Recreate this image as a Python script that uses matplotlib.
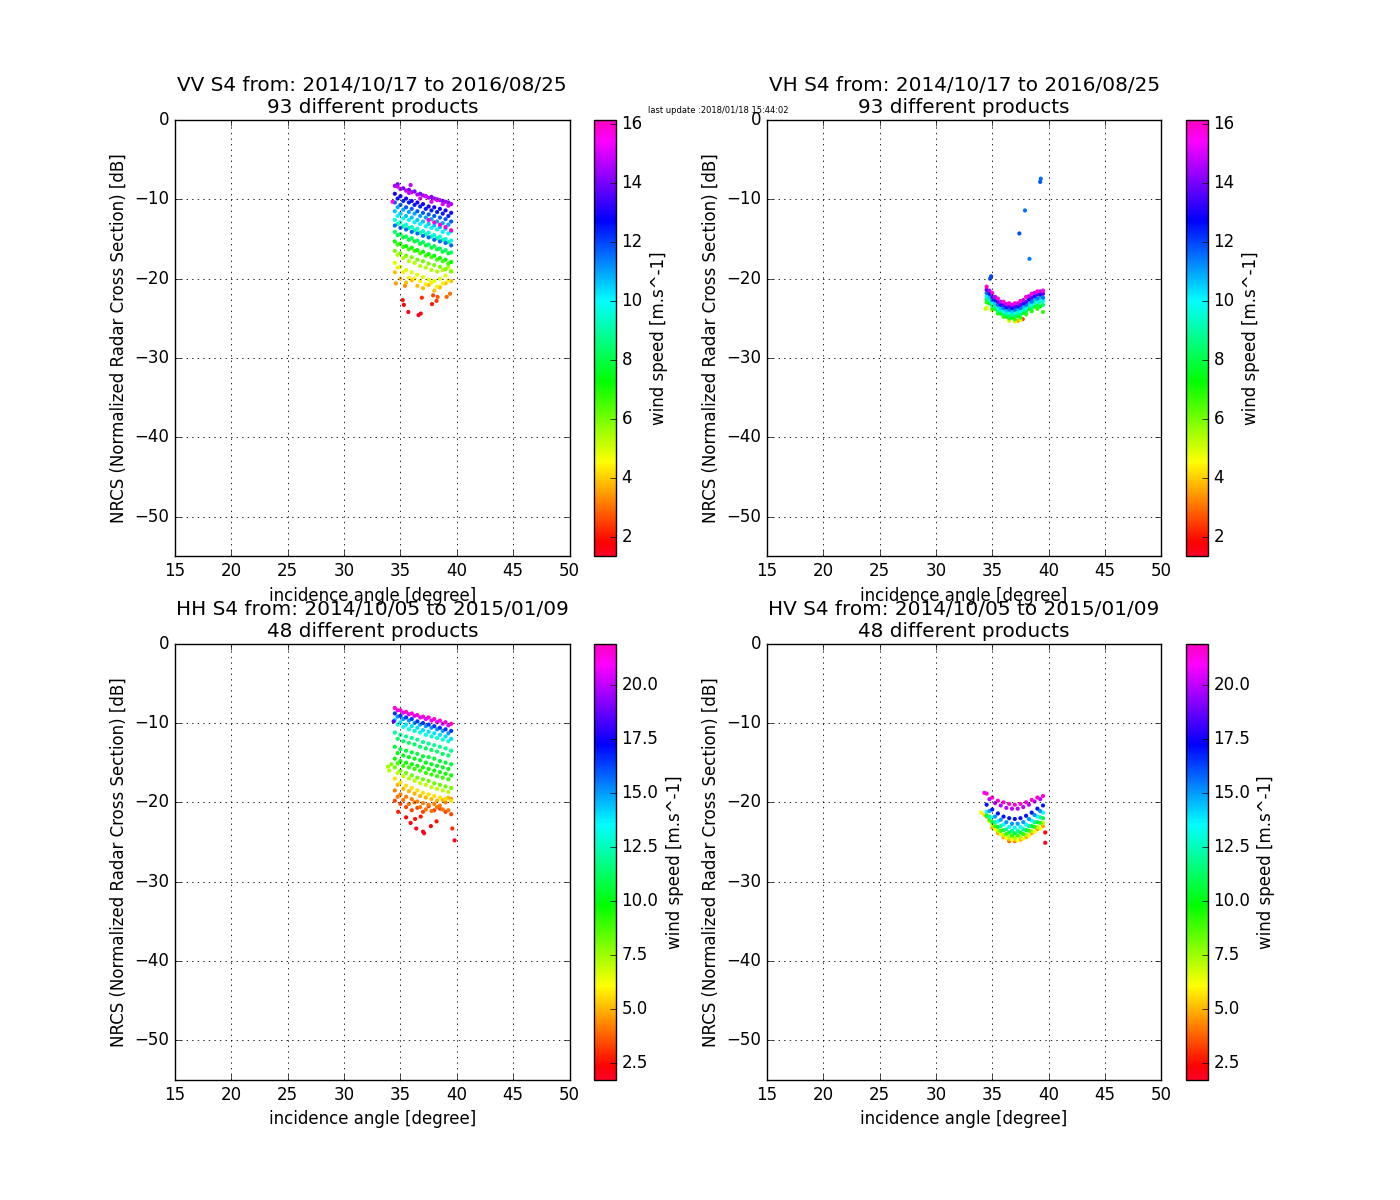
import numpy as np
import matplotlib
matplotlib.use("Agg")
import matplotlib.pyplot as plt
from matplotlib.ticker import MultipleLocator, FormatStrFormatter

# ---------------- data ----------------
ANGLES_A = [34.5, 35.0, 35.5, 36.0, 36.5, 37.0, 37.5, 38.0, 38.5, 39.0, 39.5]
ANGLES_B = [34.75, 35.25, 35.75, 36.25, 36.75, 37.25, 37.75, 38.25, 38.75, 39.25]
nan = float("nan")

# VV
VV_WIND_A = [14.6, 13.0, 11.8, 10.6, 15.9, 9.6, 11.6, 8.4, 7.2, 6.0, 4.9, 3.9]
VV_NRCS_A = [
    [-8.3, -8.7, -8.9, -9.1, -9.4, -9.5, -9.8, -9.9, -10.1, -10.3, -10.6],
    [-9.3, -9.6, -9.9, -10.2, -10.4, -10.6, -10.9, -11.0, -11.2, -11.4, -11.7],
    [-10.4, -10.7, -11.0, -11.2, -11.5, -11.7, -11.9, -12.1, -12.3, -12.5, -12.8],
    [-11.5, -11.8, -12.1, -12.3, -12.6, -12.8, -13.1, -13.3, -13.5, -13.7, -14.0],
    [nan, nan, nan, nan, nan, nan, -12.6, -12.9, -13.2, -13.5, -13.9],
    [-12.6, -12.9, -13.2, -13.5, -13.7, -14.0, -14.2, -14.5, -14.7, -15.0, -15.2],
    [-13.3, -13.6, -13.8, -14.1, -14.3, -14.6, -14.8, -15.1, -15.3, -15.5, -15.8],
    [-14.1, -14.4, -14.7, -14.9, -15.2, -15.4, -15.7, -15.9, -16.2, -16.4, -16.7],
    [-15.3, -15.6, -15.9, -16.1, -16.4, -16.6, -16.9, -17.1, -17.4, -17.6, -17.9],
    [-16.5, -16.8, -17.1, -17.3, -17.6, -17.8, -18.1, -18.3, -18.5, -18.8, -19.1],
    [-18.0, -18.5, -18.9, -19.2, -19.5, -19.8, -20.1, -20.3, -20.0, -19.6, -19.0],
    [-19.2, -20.0, -20.5, -20.2, -20.9, -21.2, -20.8, -21.5, -21.1, -20.6, -20.3],
]
VV_WIND_B = [14.0, 12.4, 11.0, 10.1, 9.0, 7.8, 6.6, 5.4, 4.4, 15.0]
VV_NRCS_B = [
    [-8.1, -8.6, -8.8, -9.0, -9.3, -9.6, -9.7, -10.0, -10.2, -10.4],
    [-9.9, -10.2, -10.4, -10.7, -10.9, -11.2, -11.4, -11.6, -11.8, -12.1],
    [-11.0, -11.3, -11.6, -11.8, -12.1, -12.3, -12.5, -12.8, -13.0, -13.2],
    [-12.1, -12.4, -12.6, -12.9, -13.1, -13.4, -13.6, -13.8, -14.1, -14.3],
    [-13.1, -13.4, -13.6, -13.9, -14.2, -14.4, -14.7, -14.9, -15.1, -15.4],
    [-14.5, -14.8, -15.1, -15.3, -15.6, -15.8, -16.1, -16.3, -16.6, -16.8],
    [-15.7, -16.0, -16.3, -16.5, -16.8, -17.1, -17.3, -17.6, -17.8, -18.1],
    [-17.0, -17.4, -17.8, -18.0, -18.4, -18.6, -18.9, -19.1, -18.9, -18.5],
    [-18.6, -19.2, -19.9, -20.0, -20.3, -20.7, -20.5, -21.0, -20.6, -20.2],
    [-8.4, nan, -9.2, nan, -9.9, -9.6, -10.3, -10.1, -10.6, -10.8],
]
VV_EXTRA_ANGLE = [35.2, 35.3, 35.7, 36.6, 36.8, 36.9, 37.8, 37.9, 38.2, 38.3, 39.1, 39.4, 34.6, 35.4, 34.3, 35.9]
VV_EXTRA_NRCS = [-22.7, -23.3, -24.2, -24.6, -24.4, -22.4, -23.2, -22.1, -22.8, -22.3, -22.3, -21.9, -20.6, -20.9, -10.3, -8.2]
VV_EXTRA_WIND = [2.0, 1.8, 1.5, 1.4, 1.6, 2.3, 2.1, 2.6, 2.4, 2.8, 2.9, 3.0, 3.5, 3.3, 15.5, 14.8]

# VH
VH_WIND_A = [15.9, 13.6, 11.5, 9.8, 8.3, 6.8, 5.0]
VH_NRCS_A = [
    [-21.0, -21.8, -22.5, -22.9, -23.1, -23.1, -22.8, -22.3, -21.9, -21.6, -21.5],
    [-21.4, -22.3, -22.9, -23.3, -23.5, -23.5, -23.3, -22.9, -22.4, -22.0, -21.9],
    [-21.8, -22.7, -23.3, -23.7, -23.9, -23.9, -23.7, -23.3, -22.9, -22.5, -22.4],
    [-22.2, -23.0, -23.7, -24.1, -24.3, -24.3, -24.1, -23.7, -23.3, -22.9, -22.8],
    [-22.6, -23.4, -24.1, -24.5, -24.7, -24.7, -24.5, -24.1, -23.7, -23.3, -23.3],
    [-23.0, -23.8, -24.4, -24.8, -25.0, -25.1, -24.9, -24.5, -24.1, -23.8, -24.2],
    [-23.7, -24.0, nan, nan, -25.3, -25.4, -25.2, nan, nan, nan, nan],
]
VH_WIND_B = [14.8, 12.5, 10.6, 9.0, 7.5]
VH_NRCS_B = [
    [-21.5, -22.3, -22.9, -23.2, -23.3, -23.1, -22.7, -22.2, -21.8, -21.6],
    [-21.9, -22.7, -23.3, -23.6, -23.7, -23.5, -23.1, -22.6, -22.2, -22.0],
    [-22.3, -23.1, -23.7, -24.0, -24.1, -23.9, -23.5, -23.0, -22.6, -22.4],
    [-22.7, -23.5, -24.0, -24.4, -24.5, -24.3, -23.9, -23.4, -23.0, -22.9],
    [-23.1, -23.8, -24.4, -24.8, -24.9, -24.7, -24.3, -23.8, -23.5, -23.5],
]
VH_EXTRA_ANGLE = [39.3, 39.25, 37.9, 37.4, 38.3, 34.9, 34.8, 37.7, 37.3, 34.4]
VH_EXTRA_NRCS = [-7.4, -7.8, -11.4, -14.3, -17.5, -19.7, -20.0, -25.1, -25.3, -23.8]
VH_EXTRA_WIND = [11.6, 11.8, 11.5, 11.9, 11.4, 12.0, 11.7, 2.5, 3.5, 5.0]

# HH
HH_WIND_A = [21.6, 16.5, 14.0, 12.0, 10.6, 9.6, 8.2, 5.6, 4.2, 3.3]
HH_NRCS_A = [
    [-8.1, -8.4, -8.6, -8.8, -9.0, -9.2, -9.3, -9.5, -9.7, -9.9, -10.1],
    [-8.8, -9.1, -9.3, -9.5, -9.8, -10.0, -10.2, -10.4, -10.6, -10.8, -11.0],
    [-9.6, -9.9, -10.2, -10.4, -10.6, -10.9, -11.1, -11.3, -11.5, -11.7, -12.0],
    [-11.2, -11.5, -11.7, -11.9, -12.1, -12.4, -12.6, -12.8, -13.0, -13.2, -13.5],
    [-13.0, -13.3, -13.5, -13.7, -13.9, -14.2, -14.3, -14.5, -14.8, -15.0, -15.2],
    [-14.5, -14.8, -15.0, -15.2, -15.4, -15.6, -15.8, -16.0, -16.2, -16.4, -16.6],
    [-15.6, -16.0, -16.3, -16.6, -16.9, -17.1, -17.3, -17.6, -17.8, -18.0, -18.2],
    [-17.0, -17.5, -17.9, -18.2, -18.5, -18.8, -19.0, -19.2, -19.4, -19.6, -19.8],
    [-18.5, -19.0, -19.3, -19.6, -19.9, -20.1, -20.3, -20.2, -20.4, -20.0, -19.6],
    [-19.8, -20.2, -20.6, -21.0, -20.7, -21.2, -20.5, -21.0, -20.8, -21.2, -21.5],
]
HH_WIND_B = [20.5, 15.0, 13.0, 11.3, 10.1, 9.0, 7.0, 5.0, 4.0]
HH_NRCS_B = [
    [-8.4, -8.7, -8.9, -9.1, -9.3, -9.5, -9.7, -9.9, -10.1, -10.3],
    [-9.2, -9.5, -9.7, -10.0, -10.2, -10.4, -10.6, -10.8, -11.0, -11.3],
    [-10.2, -10.5, -10.8, -11.0, -11.2, -11.5, -11.7, -11.9, -12.1, -12.3],
    [-12.0, -12.3, -12.5, -12.7, -13.0, -13.2, -13.4, -13.6, -13.9, -14.1],
    [-13.8, -14.1, -14.3, -14.5, -14.7, -15.0, -15.2, -15.4, -15.6, -15.8],
    [-15.1, -15.4, -15.6, -15.8, -16.0, -16.3, -16.5, -16.7, -16.9, -17.1],
    [-16.3, -16.7, -17.0, -17.3, -17.6, -17.8, -18.1, -18.3, -18.5, -18.7],
    [-17.8, -18.3, -18.6, -18.9, -19.2, -19.4, -19.6, -19.8, -19.7, -19.4],
    [-19.3, -19.7, -20.2, -20.0, -20.6, -20.9, -21.1, -20.6, -20.9, -21.0],
]
HH_EXTRA_ANGLE = [34.8, 35.5, 36.3, 36.4, 37.0, 37.1, 37.7, 38.2, 39.6, 39.8, 35.9, 36.8,
                  33.9, 34.0, 34.2, 34.4]
HH_EXTRA_NRCS = [-21.2, -21.9, -22.1, -23.3, -23.7, -23.9, -23.0, -22.4, -23.3, -24.8, -22.6, -21.8,
                 -15.5, -16.0, -15.2, -9.8]
HH_EXTRA_WIND = [2.8, 2.4, 2.6, 2.0, 1.9, 1.8, 2.2, 2.5, 2.9, 2.0, 2.3, 2.7,
                 7.5, 7.0, 8.0, 18.5]

# HV
HV_WIND_A = [21.6, 17.0, 13.5, 10.5, 7.0, 4.8]
HV_NRCS_A = [
    [-18.9, -19.4, -19.8, -20.0, -20.2, -20.3, -20.2, -20.0, -19.7, -19.4, -19.2],
    [-20.3, -20.9, -21.4, -21.8, -22.0, -22.1, -22.0, -21.7, -21.3, -20.8, -20.4],
    [-21.2, -21.9, -22.4, -22.8, -23.1, -23.2, -23.1, -22.8, -22.3, -21.8, -21.3],
    [-21.7, -22.5, -23.1, -23.5, -23.8, -23.9, -23.8, -23.5, -23.0, -22.5, -22.0],
    [-21.4, -22.9, -23.6, -24.1, -24.4, -24.5, -24.4, -24.1, -23.6, -23.1, -22.6],
    [-21.8, -23.2, -23.9, -24.4, -24.7, -24.8, -24.7, -24.4, -23.9, -23.4, -23.0],
]
HV_WIND_B = [20.0, 15.0, 12.0, 9.0, 6.0]
HV_NRCS_B = [
    [-19.6, -20.1, -20.4, -20.7, -20.8, -20.8, -20.6, -20.3, -19.9, -19.6],
    [-21.1, -21.8, -22.2, -22.5, -22.7, -22.7, -22.5, -22.1, -21.6, -21.1],
    [-21.8, -22.5, -23.0, -23.4, -23.6, -23.6, -23.4, -23.0, -22.5, -21.9],
    [-22.2, -23.0, -23.6, -24.0, -24.2, -24.2, -24.0, -23.6, -23.1, -22.6],
    [-22.4, -23.4, -24.0, -24.5, -24.7, -24.8, -24.6, -24.2, -23.7, -23.3],
]
HV_EXTRA_ANGLE = [34.0, 34.3, 37.0, 39.7, 39.7, 36.5, 34.3]
HV_EXTRA_NRCS = [-21.3, -21.6, -24.9, -23.8, -25.1, -24.9, -18.8]
HV_EXTRA_WIND = [6.0, 5.5, 3.5, 2.2, 1.8, 3.8, 21.0]

WIND_RANGE_VV = (1.36, 16.14)
WIND_RANGE_HH = (1.71, 21.9)
CBAR_STEP_VV = 2.0
CBAR_STEP_HH = 2.5

TITLES = [
    "VV S4 from: 2014/10/17 to 2016/08/25\n93 different products",
    "VH S4 from: 2014/10/17 to 2016/08/25\n93 different products",
    "HH S4 from: 2014/10/05 to 2015/01/09\n48 different products",
    "HV S4 from: 2014/10/05 to 2015/01/09\n48 different products",
]
UPDATE_TEXT = "last update :2018/01/18 15:44:02"


def gather(wa, na, wb, nb, ea, en, ew):
    xs, ys, cs = [], [], []
    for w, row in zip(wa, na):
        for a, v in zip(ANGLES_A, row):
            if not np.isnan(v):
                xs.append(a); ys.append(v); cs.append(w)
    for w, row in zip(wb, nb):
        for a, v in zip(ANGLES_B, row):
            if not np.isnan(v):
                xs.append(a); ys.append(v); cs.append(w)
    xs += list(ea); ys += list(en); cs += list(ew)
    return np.array(xs), np.array(ys), np.array(cs)


panels = [
    (gather(VV_WIND_A, VV_NRCS_A, VV_WIND_B, VV_NRCS_B, VV_EXTRA_ANGLE, VV_EXTRA_NRCS, VV_EXTRA_WIND),
     WIND_RANGE_VV, CBAR_STEP_VV, "%d"),
    (gather(VH_WIND_A, VH_NRCS_A, VH_WIND_B, VH_NRCS_B, VH_EXTRA_ANGLE, VH_EXTRA_NRCS, VH_EXTRA_WIND),
     WIND_RANGE_VV, CBAR_STEP_VV, "%d"),
    (gather(HH_WIND_A, HH_NRCS_A, HH_WIND_B, HH_NRCS_B, HH_EXTRA_ANGLE, HH_EXTRA_NRCS, HH_EXTRA_WIND),
     WIND_RANGE_HH, CBAR_STEP_HH, "%.1f"),
    (gather(HV_WIND_A, HV_NRCS_A, HV_WIND_B, HV_NRCS_B, HV_EXTRA_ANGLE, HV_EXTRA_NRCS, HV_EXTRA_WIND),
     WIND_RANGE_HH, CBAR_STEP_HH, "%.1f"),
]

# ---------------- plot ----------------
plt.style.use("classic")
plt.rcParams["figure.facecolor"] = "white"
plt.rcParams["savefig.facecolor"] = "white"
plt.rcParams["font.family"] = ["DejaVu Sans"]

fig = plt.figure(figsize=(14, 12), dpi=100)
for i, ((x, y, c), (vmin, vmax), step, fmt) in enumerate(panels):
    ax = plt.subplot(2, 2, i + 1)
    order = np.argsort(c, kind="stable")
    sc = ax.scatter(x[order], y[order], c=c[order], cmap="gist_rainbow", vmin=vmin, vmax=vmax,
                    s=9, edgecolors="none", linewidths=0)
    ax.set_xlim(15, 50)
    ax.set_ylim(-55, 0)
    ax.grid(True, linestyle=":", color="k", linewidth=0.6)
    ax.set_xlabel("incidence angle [degree]")
    ax.set_ylabel("NRCS (Normalized Radar Cross Section) [dB]")
    ax.set_title(TITLES[i], fontsize=14.4)
    cb = plt.colorbar(sc, ax=ax)
    cb.locator = MultipleLocator(step)
    cb.formatter = FormatStrFormatter(fmt)
    cb.update_ticks()
    cb.set_label("wind speed [m.s^-1]")

fig.text(0.513, 0.908, UPDATE_TEXT, ha="center", va="center", fontsize=6)
fig.savefig("out.png", dpi=100)
